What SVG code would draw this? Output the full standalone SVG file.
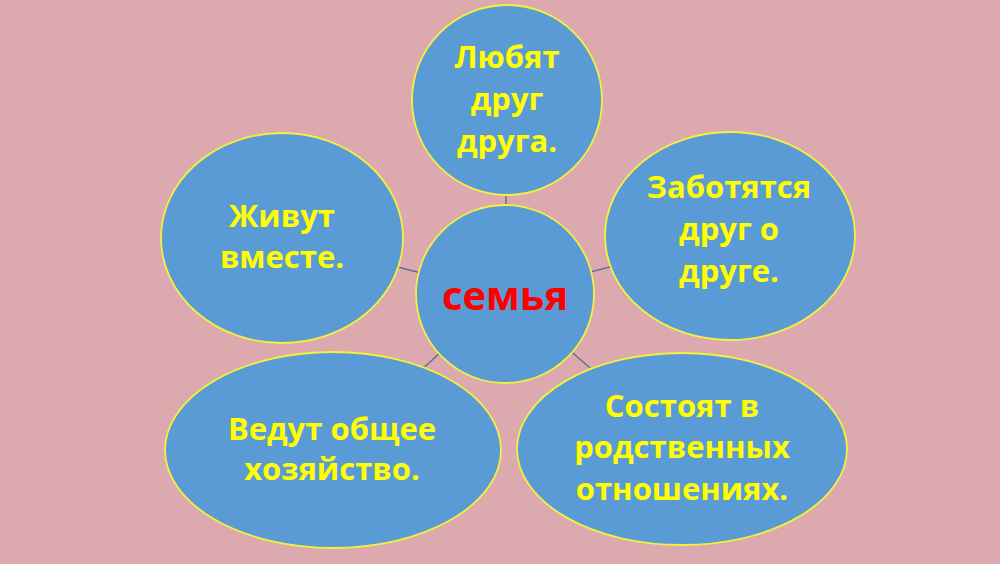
<svg xmlns="http://www.w3.org/2000/svg" width="1000" height="564" viewBox="0 0 1000 564">
<style>
.n{fill:#5b9bd5;stroke:#f2f23c;stroke-width:1.8}
.t{font-family:"Open Sans","Noto Sans","DejaVu Sans",sans-serif;font-weight:bold;font-size:31px;fill:#ffff00;text-anchor:middle}
.c{font-family:"Open Sans","Noto Sans","DejaVu Sans",sans-serif;font-weight:bold;font-size:40px;fill:#ff0000;text-anchor:middle}
.l{stroke:#5a6c8c;stroke-width:1.3}
</style>
<rect width="1000" height="564" fill="#dca9af"/>
<g id="connectors">
<line class="l" x1="505" y1="294" x2="507" y2="100"/>
<line class="l" x1="505" y1="294" x2="282" y2="238"/>
<line class="l" x1="505" y1="294" x2="730" y2="236"/>
<line class="l" x1="505" y1="294" x2="333" y2="450"/>
<line class="l" x1="505" y1="294" x2="682" y2="448"/>
</g>
<g id="node-top">
<circle class="n" cx="507" cy="100" r="95"/>
<text class="t" x="507"><tspan x="507" y="68">Любят</tspan><tspan x="507" y="110">друг</tspan><tspan x="507" y="152">друга.</tspan></text>
</g>
<g id="node-left">
<ellipse class="n" cx="282" cy="238" rx="121" ry="105"/>
<text class="t"><tspan x="282" y="227">Живут</tspan><tspan x="282" y="268">вместе.</tspan></text>
</g>
<g id="node-right">
<ellipse class="n" cx="730" cy="236" rx="125" ry="104"/>
<text class="t"><tspan x="729" y="198">Заботятся</tspan><tspan x="729" y="240">друг о</tspan><tspan x="729" y="282">друге.</tspan></text>
</g>
<g id="node-bottom-left">
<ellipse class="n" cx="333" cy="450" rx="168" ry="98"/>
<text class="t"><tspan x="332" y="440">Ведут общее</tspan><tspan x="332" y="480">хозяйство.</tspan></text>
</g>
<g id="node-bottom-right">
<ellipse class="n" cx="682" cy="449" rx="165" ry="96"/>
<text class="t"><tspan x="682" y="417">Состоят в</tspan><tspan x="682" y="458">родственных</tspan><tspan x="682" y="500">отношениях.</tspan></text>
</g>
<g id="node-center">
<circle class="n" cx="505" cy="294" r="89"/>
<text class="c" x="505" y="310">семья</text>
</g>
</svg>
